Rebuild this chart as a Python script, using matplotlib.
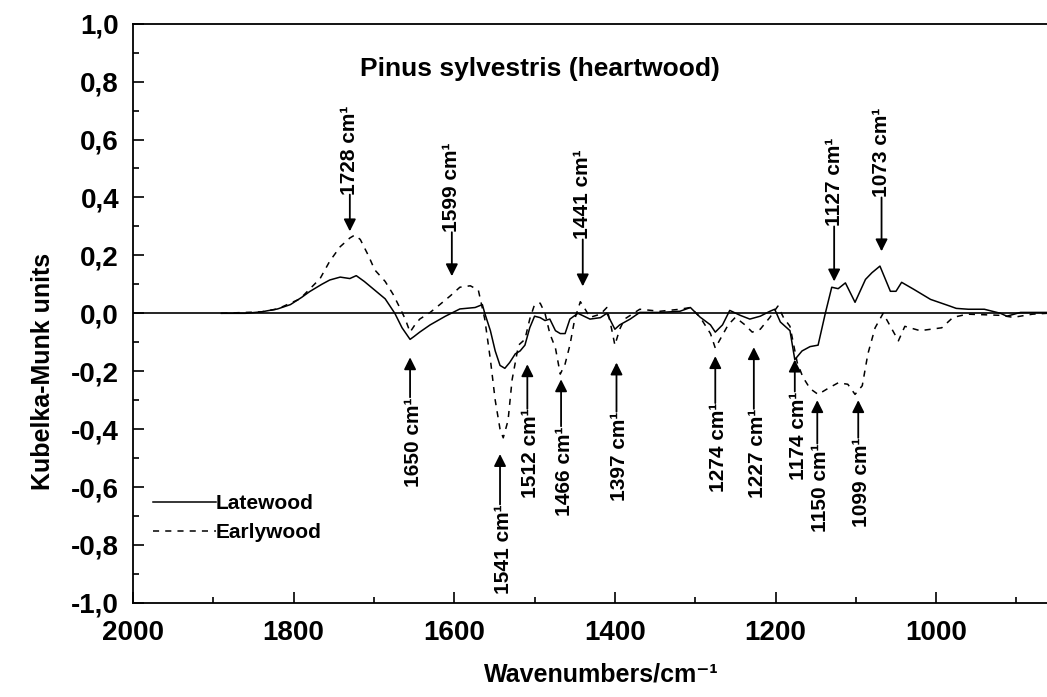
import matplotlib
matplotlib.use("Agg")
import matplotlib.pyplot as plt
from matplotlib.ticker import MultipleLocator, FuncFormatter

plt.rcParams["font.family"] = ["Liberation Sans", "DejaVu Sans"]
plt.rcParams["font.weight"] = "bold"
plt.rcParams["axes.labelweight"] = "bold"

# Espectros (números de onda en cm-1, unidades Kubelka-Munk)
late_wn = [1890, 1860, 1840, 1820, 1804, 1790, 1780, 1765, 1755, 1742, 1730, 1722, 1712,
           1699, 1686, 1674, 1665, 1655, 1650, 1643, 1630, 1611, 1593, 1574, 1565, 1562,
           1555, 1549, 1543, 1537, 1531, 1524, 1518, 1512, 1506, 1500, 1493, 1487, 1481,
           1474, 1468, 1462, 1456, 1446, 1431, 1418, 1410, 1400, 1394, 1381, 1369, 1344,
           1319, 1306, 1294, 1281, 1275, 1266, 1257, 1244, 1232, 1219, 1207, 1201, 1194,
           1182, 1176, 1167, 1157, 1147, 1138, 1130, 1122, 1113, 1101, 1088, 1080, 1070,
           1057, 1050, 1043, 1028, 1007, 983, 975, 960, 940, 920, 912, 895, 862]
late_km = [0.0, 0.0, 0.005, 0.015, 0.03, 0.055, 0.075, 0.10, 0.115, 0.125, 0.12, 0.13, 0.11,
           0.08, 0.05, 0.0, -0.05, -0.09, -0.08, -0.065, -0.04, -0.01, 0.015, 0.02, 0.03, 0.0,
           -0.06, -0.13, -0.18, -0.19, -0.17, -0.14, -0.13, -0.11, -0.05, -0.01, -0.015, -0.025, -0.02,
           -0.06, -0.07, -0.07, -0.02, 0.0, -0.02, -0.015, 0.0, -0.055, -0.04, -0.02, 0.003, 0.003,
           0.007, 0.02, -0.013, -0.04, -0.065, -0.04, 0.01, -0.007, -0.02, -0.01, 0.007, 0.014, -0.03,
           -0.06, -0.16, -0.13, -0.115, -0.11, 0.0, 0.09, 0.085, 0.105, 0.038, 0.117, 0.14, 0.163,
           0.076, 0.076, 0.107, 0.083, 0.048, 0.025, 0.017, 0.014, 0.014, 0.0, -0.01, 0.003, 0.003]

early_wn = [1890, 1840, 1820, 1792, 1767, 1755, 1742, 1730, 1724, 1717, 1707, 1699, 1686,
            1676, 1667, 1661, 1655, 1649, 1643, 1630, 1618, 1605, 1593, 1580, 1570, 1562,
            1555, 1549, 1543, 1539, 1533, 1528, 1520, 1512, 1506, 1500, 1493, 1487, 1481,
            1474, 1468, 1462, 1456, 1450, 1443, 1437, 1431, 1418, 1410, 1404, 1400, 1394,
            1388, 1369, 1344, 1319, 1306, 1294, 1281, 1275, 1269, 1259, 1250, 1238, 1229,
            1219, 1207, 1197, 1190, 1182, 1173, 1166, 1157, 1147, 1135, 1122, 1110, 1101,
            1092, 1085, 1076, 1066, 1057, 1047, 1039, 1020, 993, 979, 961, 920, 904, 880, 862]
early_km = [0.0, 0.005, 0.015, 0.05, 0.12, 0.18, 0.23, 0.26, 0.27, 0.255, 0.2, 0.15, 0.11,
            0.065, 0.015, -0.02, -0.065, -0.04, -0.02, 0.003, 0.03, 0.06, 0.09, 0.095, 0.08, -0.02,
            -0.16, -0.30, -0.40, -0.43, -0.37, -0.23, -0.11, -0.09, -0.02, 0.03, 0.035, 0.0, -0.07,
            -0.12, -0.21, -0.175, -0.11, -0.02, 0.04, 0.014, -0.014, -0.003, 0.02, -0.055, -0.11, -0.055,
            -0.02, 0.014, 0.007, 0.014, 0.02, -0.013, -0.07, -0.12, -0.09, -0.04, -0.014, -0.04, -0.065,
            -0.055, -0.014, 0.025, -0.015, -0.045, -0.17, -0.22, -0.26, -0.28, -0.26, -0.24, -0.245, -0.28,
            -0.25, -0.14, -0.05, 0.0, -0.045, -0.095, -0.045, -0.06, -0.05, -0.014, -0.003, -0.007, -0.014, -0.003, 0.0]

# Bandas señaladas: etiqueta, posición, punta de la flecha, inicio del texto
top_bands = ["1728", "1599", "1441", "1127", "1073"]
top_wn = [1730, 1603, 1440, 1127, 1068]
top_tip = [0.283, 0.128, 0.093, 0.11, 0.214]
top_text = [0.41, 0.28, 0.255, 0.30, 0.40]

bot_bands = ["1650", "1541", "1512", "1466", "1397", "1274", "1227", "1174", "1150", "1099"]
bot_wn = [1655, 1543, 1509, 1467, 1398, 1275, 1227, 1176, 1148, 1097]
bot_tip = [-0.152, -0.486, -0.176, -0.228, -0.17, -0.148, -0.117, -0.16, -0.30, -0.30]
bot_text = [-0.29, -0.66, -0.33, -0.39, -0.34, -0.31, -0.33, -0.27, -0.45, -0.43]

fig = plt.figure(figsize=(10.47, 6.97), dpi=100)
ax = fig.add_axes([0.127, 0.135, 0.873, 0.831])

ax.axhline(0, color="k", lw=1.2)
ax.plot(late_wn, late_km, "k-", lw=1.1, label="Latewood")
ax.plot(early_wn, early_km, "k--", lw=1.1, dashes=(4, 4), label="Earlywood")

arrow = dict(arrowstyle="-|>", color="k", lw=1.3, mutation_scale=18, shrinkA=0, shrinkB=0)
for lab, x, tip, t in zip(top_bands, top_wn, top_tip, top_text):
    ax.annotate("", xy=(x, tip), xytext=(x, t), arrowprops=arrow)
    ax.text(x, t, lab + " cm\u00b9", rotation=90, ha="center", va="bottom", fontsize=15)
for lab, x, tip, t in zip(bot_bands, bot_wn, bot_tip, bot_text):
    ax.annotate("", xy=(x, tip), xytext=(x, t), arrowprops=arrow)
    ax.text(x - 4, t, lab + " cm\u00b9", rotation=90, ha="center", va="top", fontsize=15)

ax.text(1717, 0.843, "Pinus sylvestris (heartwood)", ha="left", va="center", fontsize=19)

ax.set_xlim(2000, 862)
ax.set_ylim(-1.0, 1.0)
ax.xaxis.set_major_locator(MultipleLocator(200))
ax.xaxis.set_minor_locator(MultipleLocator(100))
ax.yaxis.set_major_locator(MultipleLocator(0.2))
ax.yaxis.set_minor_locator(MultipleLocator(0.1))
ax.yaxis.set_major_formatter(FuncFormatter(lambda v, p: f"{v:.1f}".replace(".", ",").replace("-0,0", "0,0")))
ax.tick_params(which="both", direction="in", labelsize=20, pad=10)
ax.tick_params(axis="x", pad=12)
ax.tick_params(which="major", length=8, width=1.2)
ax.tick_params(which="minor", length=4, width=1.2)
ax.spines["right"].set_visible(False)
for s in ["left", "top", "bottom"]:
    ax.spines[s].set_linewidth(1.3)

ax.set_xlabel("Wavenumbers/cm\u207b\u00b9", fontsize=18)
ax.set_ylabel("Kubelka-Munk units", fontsize=18)
ax.xaxis.set_label_coords(0.512, -0.103)
ax.yaxis.set_label_coords(-0.085, 0.399)

ax.legend(loc="upper left", bbox_to_anchor=(0.022, 0.188), frameon=False, fontsize=15,
          borderpad=0, borderaxespad=0, handlelength=3.0, handletextpad=0.0, labelspacing=0.5)

fig.savefig("out.png", dpi=100)
